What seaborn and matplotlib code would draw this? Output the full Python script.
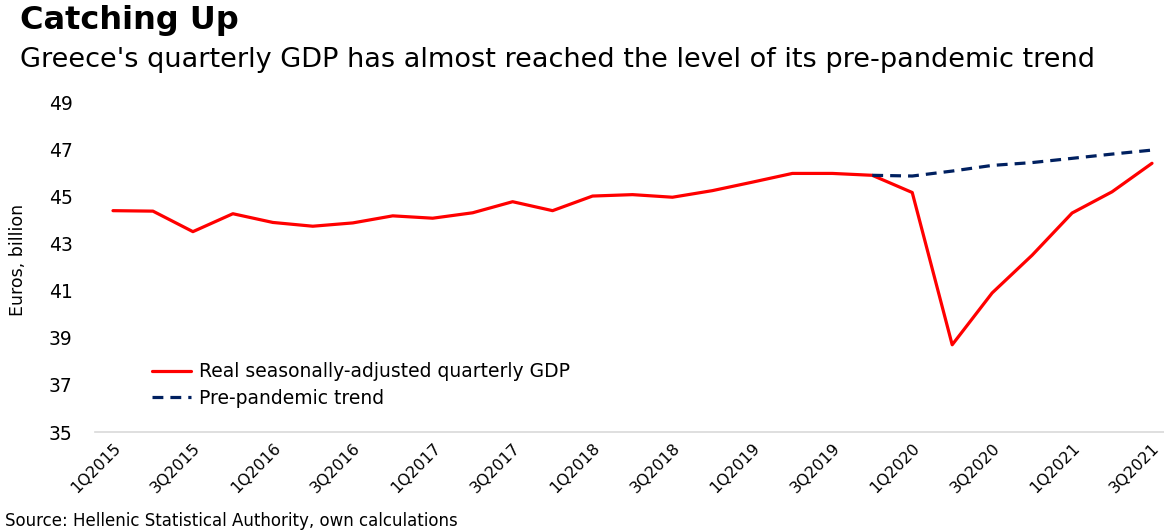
import numpy as np
import pandas as pd
import matplotlib
matplotlib.use("Agg")
import matplotlib.pyplot as plt
import seaborn as sns

quarters = [
    "1Q2015", "2Q2015", "3Q2015", "4Q2015",
    "1Q2016", "2Q2016", "3Q2016", "4Q2016",
    "1Q2017", "2Q2017", "3Q2017", "4Q2017",
    "1Q2018", "2Q2018", "3Q2018", "4Q2018",
    "1Q2019", "2Q2019", "3Q2019", "4Q2019",
    "1Q2020", "2Q2020", "3Q2020", "4Q2020",
    "1Q2021", "2Q2021", "3Q2021",
]
gdp = [
    44.39, 44.37, 43.50, 44.26,
    43.89, 43.73, 43.87, 44.17,
    44.07, 44.30, 44.77, 44.39,
    45.01, 45.07, 44.96, 45.24,
    45.60, 45.97, 45.97, 45.89,
    45.16, 38.70, 40.90, 42.50,
    44.29, 45.19, 46.40,
]
trend_quarters = ["4Q2019", "1Q2020", "2Q2020", "3Q2020",
                  "4Q2020", "1Q2021", "2Q2021", "3Q2021"]
trend = [45.89, 45.86, 46.07, 46.31, 46.43, 46.61, 46.79, 46.96]
y_ticks = [35, 37, 39, 41, 43, 45, 47, 49]

sns.set_style("white")
plt.rcParams["font.family"] = ["DejaVu Sans"]
plt.rcParams["text.color"] = "black"
plt.rcParams["axes.labelcolor"] = "black"
plt.rcParams["xtick.color"] = "black"
plt.rcParams["ytick.color"] = "black"

pos = {q: i for i, q in enumerate(quarters)}
df_gdp = pd.DataFrame({"x": [pos[q] for q in quarters], "y": gdp})
df_trend = pd.DataFrame({"x": [pos[q] for q in trend_quarters], "y": trend})

W, H = 1164, 530
fig = plt.figure(figsize=(W / 100, H / 100), dpi=100)
ax = fig.add_axes([95 / W, 98 / H, 1 - 95 / W, 330 / H])

sns.lineplot(data=df_gdp, x="x", y="y", ax=ax, color="#ff0000", linewidth=2.3,
             label="Real seasonally-adjusted quarterly GDP")
sns.lineplot(data=df_trend, x="x", y="y", ax=ax, color="#002060", linewidth=2.3,
             linestyle=(0, (3.4, 2.2)), label="Pre-pandemic trend")

ax.set_xlim(-0.45, len(quarters) - 1 + 0.3)
ax.set_ylim(35, 49)
ax.set_yticks(y_ticks)
ax.set_yticklabels([str(t) for t in y_ticks], fontsize=13.5)
ax.set_xticks(range(0, len(quarters), 2))
ax.set_xticklabels(quarters[::2], rotation=45, ha="right", rotation_mode="anchor",
                   fontsize=11.5)
ax.tick_params(axis="y", length=0, pad=16)
ax.tick_params(axis="x", length=0, pad=6)
ax.set_xlabel("")
ax.set_ylabel("Euros, billion", fontsize=12.5)
ax.yaxis.set_label_coords(-68 / 1069, 0.52)

for side in ["top", "right", "left"]:
    ax.spines[side].set_visible(False)
ax.spines["bottom"].set_color("#d9d9d9")
ax.spines["bottom"].set_linewidth(1.2)

ax.legend(loc="center left", bbox_to_anchor=(0.046, 0.142), borderaxespad=0,
          frameon=False, fontsize=13.5, handlelength=2.1, handletextpad=0.45,
          labelspacing=0.4)

fig.text(20 / W, 1 - 20 / H, "Catching Up", fontsize=23, fontweight="bold",
         va="center", ha="left")
fig.text(20 / W, 1 - 60 / H,
         "Greece's quarterly GDP has almost reached the level of its pre-pandemic trend",
         fontsize=19.5, va="center", ha="left")
fig.text(5 / W, 1 - 521 / H, "Source: Hellenic Statistical Authority, own calculations",
         fontsize=12, va="center", ha="left")

fig.savefig("out.png", dpi=100)
